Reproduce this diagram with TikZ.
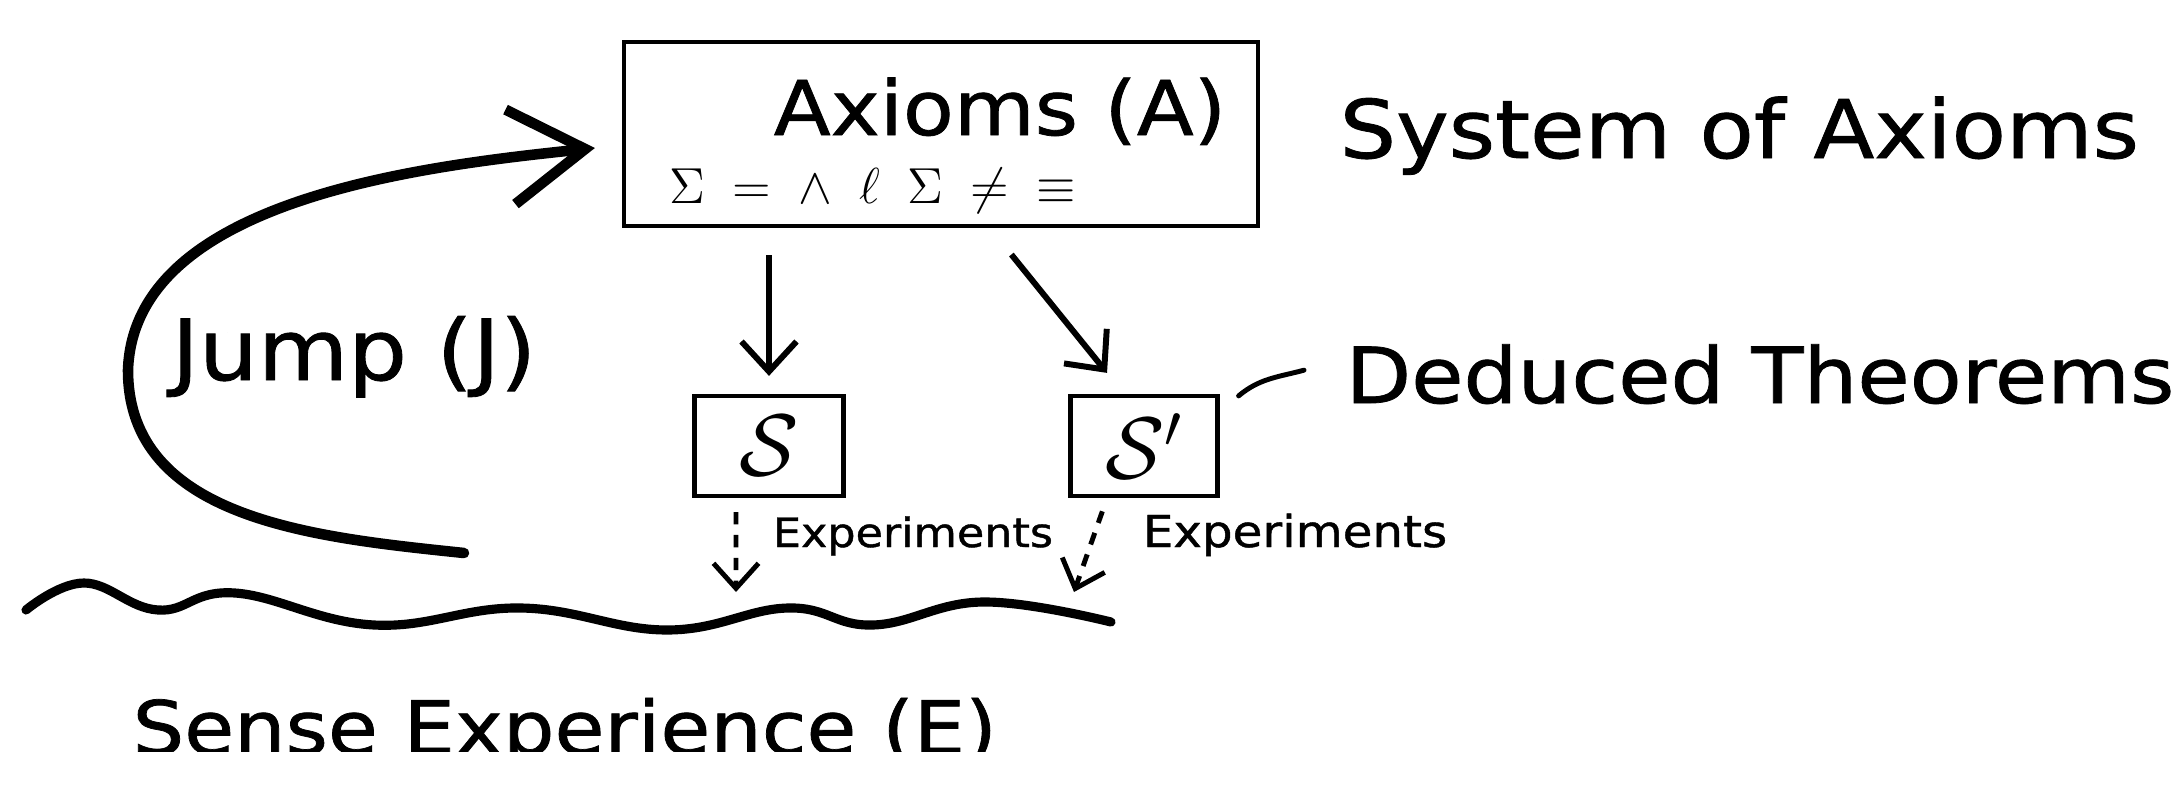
\documentclass[tikz,border=0pt]{standalone}
\usepackage{amsmath,amssymb}
\usepackage{fontspec}
\newfontfamily\hand{DejaVu Sans}[FakeStretch=1.1,FakeBold=1]
\usetikzlibrary{arrows.meta,calc}

\begin{document}
\begin{tikzpicture}[
	txt/.style={inner sep=0pt,anchor=base},
	box/.style={draw,line width=1.2pt,inner sep=0pt},
	dedarrow/.style={line width=1.7pt,-{Straight Barb[length=3mm,width=5.5mm,line width=1.7pt]}},
	exparrow/.style={line width=1.4pt,dash pattern=on 3.5pt off 3pt,-{Straight Barb[length=2.5mm,width=4.5mm,line width=1.4pt]}}
	]
	\useasboundingbox (0,0) rectangle (21.78,7.90);
	% axioms
	\node[box,minimum width=6.34cm,minimum height=1.84cm](ax) at (9.41,6.56){};
	\node[txt,font=\hand\fontsize{21.5}{25}\selectfont](axt) at (10.0,6.55){Axioms (A)};
	\node[txt,anchor=base west,font=\fontsize{15.5}{18}\selectfont](sym) at (6.69,5.87)
		{$\Sigma\enspace{=}\enspace{\wedge}\enspace\ell\enspace\Sigma\enspace{\neq}\enspace{\equiv}$};
	\node[txt,anchor=base west,font=\hand\fontsize{23}{27}\selectfont](sys) at (13.39,6.32){System of Axioms};
	% theorems
	\node[box,minimum width=1.49cm,minimum height=1cm,font=\fontsize{24}{28}\selectfont](s) at (7.69,3.44){$\mathcal{S}$};
	\node[box,minimum width=1.47cm,minimum height=1cm,font=\fontsize{24}{28}\selectfont](sp) at (11.44,3.44){$\mathcal{S}'$};
	\node[txt,anchor=base west,font=\hand\fontsize{22}{26}\selectfont](dt) at (13.45,3.87){Deduced Theorems};
	\draw[dedarrow,shorten <=2.7mm,shorten >=1.8mm] (ax.south -| s.north)--(s.north);
	\draw[dedarrow,shorten <=3.4mm,shorten >=2.7mm] ([xshift=4.9mm]ax.south)--([xshift=-2mm]sp.north);
	\draw[line width=1.4pt,line cap=round] ([xshift=1.9mm,yshift=-0.2mm]sp.north east) to[out=40,in=195] ([xshift=-4.1mm,yshift=0.4mm]dt.west);
	% experiments
	\coordinate (e1) at (7.36,1.98);
	\coordinate (e2) at (10.74,1.98);
	\draw[exparrow,shorten <=1.4mm] ([xshift=-3.3mm]s.south)--(e1);
	\draw[exparrow,shorten <=1.4mm] ([xshift=-3.7mm]sp.south)--(e2);
	\node[txt,font=\hand\fontsize{11.5}{14}\selectfont](ex1) at (9.13,2.43){Experiments};
	\node[txt,font=\hand\fontsize{12.5}{15}\selectfont](ex2) at (12.95,2.43){Experiments};
	% sense experience
	\draw[line width=2.6pt,line cap=round] plot[smooth,tension=0.7] coordinates {(0.26,1.80) (0.84,2.07) (1.58,1.80) (2.35,1.97) (3.74,1.65) (5.21,1.82) (6.67,1.60) (7.88,1.82) (8.73,1.65) (9.83,1.88) (11.11,1.68)};
	\begin{scope}
		\clip (0,0.385) rectangle (21.78,7.90);
		\node[txt,anchor=base west,font=\hand\fontsize{21}{25}\selectfont](se) at (1.32,0.36){Sense Experience (E)};
	\end{scope}
	% jump
	\coordinate (jfoot) at (4.64,2.37);
	\coordinate (jleft) at (1.28,4.20);
	\draw[line width=3pt,line cap=round,-{Straight Barb[length=7.5mm,width=9.5mm,line width=3pt]}] (jfoot) to[out=174,in=-90] (jleft) to[out=88,in=186,looseness=0.85] ([xshift=-2.7mm,yshift=-1.4mm]ax.west);
	\node[txt,font=\hand\fontsize{24}{28}\selectfont](jt) at (3.54,4.10){Jump (J)};
\end{tikzpicture}
\end{document}
